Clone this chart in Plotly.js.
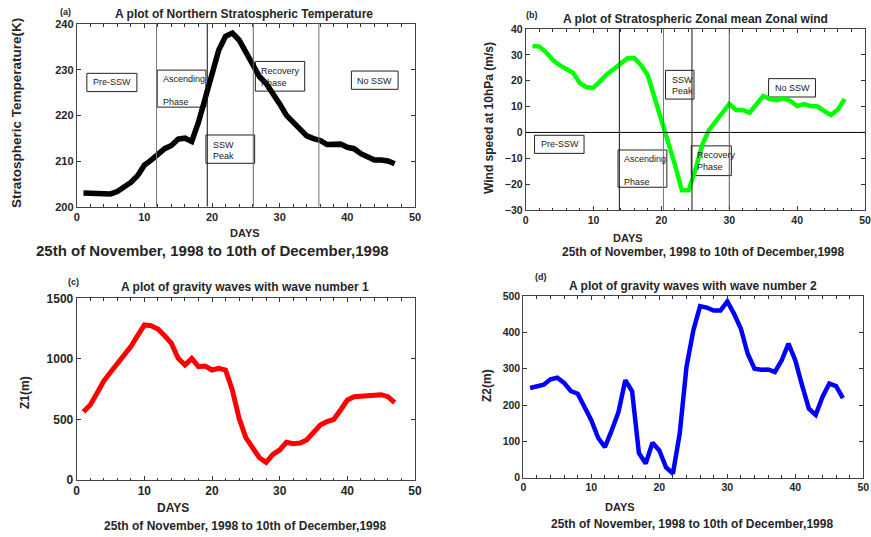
<!DOCTYPE html>
<html><head><meta charset="utf-8">
<script src="https://cdn.plot.ly/plotly-3.0.1.min.js"></script>
<style>html,body{margin:0;padding:0;background:#fff}#chart{width:871px;height:537px}</style>
</head><body><div id="chart"></div>
<script>
// ---- data ----
const days = [1,2,3,4,5,6,7,8,9,10,11,12,13,14,15,16,17,18,19,20,21,22,23,24,25,26,27,28,29,30,31,32,33,34,35,36,37,38,39,40,41,42,43,44,45,46,47];
const temperature = [203.0,202.9,202.7,202.8,202.8,203.3,204.2,205.3,206.8,209.1,210.2,211.3,212.7,213.4,214.8,215.0,214.3,218.5,224.0,229.5,234.3,237.3,238.0,236.5,234.0,231.0,228.5,227.0,225.0,222.5,220.0,218.5,216.8,215.5,214.9,214.5,213.6,213.6,213.7,213.0,212.7,211.6,210.8,210.2,210.2,210.0,209.4];
const zonalWind = [33.4,33.2,31.0,28.0,26.0,24.5,23.0,19.0,17.5,17.3,20.0,22.5,24.5,26.5,28.7,28.8,26.0,22.0,13.5,4.5,-3.0,-12.5,-22.4,-22.4,-14.5,-4.9,0.9,4.2,7.4,11.0,8.7,8.7,7.6,10.6,14.1,12.9,12.5,13.2,12.2,10.2,11.0,10.2,10.0,8.3,6.7,8.9,12.9];
const z1 = [564,619,716,817,889,955,1024,1101,1192,1280,1274,1247,1192,1128,1004,949,1004,936,941,908,922,908,743,509,350,275,184,146,212,248,311,300,305,330,394,454,482,501,578,660,688,693,699,704,704,688,638];
const z2 = [247,250,256,271,275,261,238,231,194,158,110,84,130,181,268,238,68,39,96,75,28,11,121,305,405,472,468,460,460,485,451,410,341,300,297,298,291,323,369,323,254,190,173,222,259,252,219];

const phaseLinesA = [11.8, 19.3, 26.1, 35.8];
const phaseLinesB = [13.8, 20.3, 24.5, 30.0];
const phaseLabels = ['Pre-SSW', 'Ascending', 'Phase', 'SSW', 'Peak', 'Recovery', 'Phase', 'No SSW'];

// ---- layout helpers ----
const W = 871, H = 537;
const FONT = 'Liberation Sans, Arial, sans-serif';
const px = v => v / W, py = v => 1 - v / H;

function xax(domain, anchor, size) {
  return {domain: domain, anchor: anchor, range: [0, 50], dtick: 10, tick0: 0,
    ticks: 'inside', ticklen: 4, tickcolor: '#333', showline: true, mirror: 'ticks',
    linecolor: '#444', linewidth: 1, showgrid: false, zeroline: false,
    minor: {dtick: 2, ticks: 'inside', ticklen: 2.5, tickcolor: '#333'},
    tickfont: {family: FONT, size: size, color: '#262626', weight: 'bold'}};
}
function yax(domain, anchor, range, dtick, size) {
  return {domain: domain, anchor: anchor, range: range, dtick: dtick,
    ticks: 'inside', ticklen: 4, tickcolor: '#333', showline: true, mirror: 'ticks',
    linecolor: '#444', linewidth: 1, showgrid: false, zeroline: false,
    tickfont: {family: FONT, size: size, color: '#262626', weight: 'bold'}};
}

const traces = [
  {x: days, y: temperature, xaxis: 'x', yaxis: 'y', mode: 'lines', line: {color: '#000000', width: 5.5}},
  {x: days, y: zonalWind, xaxis: 'x2', yaxis: 'y2', mode: 'lines', line: {color: '#00ff00', width: 4.5}},
  {x: days, y: z1, xaxis: 'x3', yaxis: 'y3', mode: 'lines', line: {color: '#ff0000', width: 5}},
  {x: days, y: z2, xaxis: 'x4', yaxis: 'y4', mode: 'lines', line: {color: '#0000ff', width: 4.5}}
];

const shapes = [];
const vColA = ['#777', '#111', '#666', '#777'];
phaseLinesA.forEach((d, i) => shapes.push({type: 'line', xref: 'x', yref: 'y', x0: d, x1: d, y0: 200, y1: 240, line: {color: vColA[i], width: 1}}));
const vColB = ['#111', '#777', '#111', '#555'];
phaseLinesB.forEach((d, i) => shapes.push({type: 'line', xref: 'x2', yref: 'y2', x0: d, x1: d, y0: -30, y1: 40, line: {color: vColB[i], width: 1}}));
shapes.push({type: 'line', xref: 'x2', yref: 'y2', x0: 0, x1: 50, y0: 0, y1: 0, line: {color: '#000', width: 1}});

// boxes: [x0, x1, y0, y1]
const boxesA = [[1.5, 8.9, 225.2, 229.2], [11.9, 19.1, 221.8, 229.9], [19.1, 26.3, 209.5, 215.7], [26.4, 33.7, 225.3, 231.8], [40.6, 47.5, 225.7, 229.7]];
const boxesB = [[1.3, 8.6, -8.1, -1.1], [13.6, 20.8, -21.2, -6.8], [20.6, 24.8, 12.9, 24.0], [24.4, 30.3, -16.7, -5.2], [35.8, 42.7, 13.7, 20.8]];
boxesA.forEach(b => shapes.push({type: 'rect', xref: 'x', yref: 'y', x0: b[0], x1: b[1], y0: b[2], y1: b[3], line: {color: '#222', width: 1}, layer: 'below'}));
boxesB.forEach(b => shapes.push({type: 'rect', xref: 'x2', yref: 'y2', x0: b[0], x1: b[1], y0: b[2], y1: b[3], line: {color: '#222', width: 1}, layer: 'below'}));

// label positions [x, y] per label in phaseLabels order
const labPosA = [[2.1, 227.3], [12.5, 228.0], [12.5, 222.9], [19.8, 213.5], [19.8, 211.2], [27.0, 229.7], [27.0, 227.15], [41.2, 227.6]];
const labPosB = [[2.0, -4.6], [14.2, -10.3], [14.2, -19.0], [21.2, 20.3], [21.2, 16.0], [25.0, -8.8], [25.0, -13.2], [36.4, 17.3]];

const annotations = [];
const boxFont = {family: FONT, size: 9, color: '#222'};
phaseLabels.forEach((t, i) => {
  annotations.push({xref: 'x', yref: 'y', x: labPosA[i][0], y: labPosA[i][1], text: t, showarrow: false, xanchor: 'left', yanchor: 'middle', font: boxFont});
  annotations.push({xref: 'x2', yref: 'y2', x: labPosB[i][0], y: labPosB[i][1], text: t, showarrow: false, xanchor: 'left', yanchor: 'middle', font: boxFont});
});

function txt(t, x, y, size, angle) {
  annotations.push({xref: 'paper', yref: 'paper', x: px(x), y: py(y), text: t, showarrow: false,
    xanchor: 'center', yanchor: 'middle', textangle: angle || 0,
    font: {family: FONT, size: size, color: '#262626', weight: 'bold'}});
}
const sub = '25th of November, 1998 to 10th of December,1998';
txt('(a)', 65, 12, 9); txt('(b)', 532, 15, 9); txt('(c)', 73, 282, 9); txt('(d)', 541, 277, 9);
txt('A plot of Northern Stratospheric Temperature', 244, 14, 12);
txt('A plot of Stratospheric Zonal mean Zonal wind', 695, 19, 12);
txt('A plot of gravity waves with wave number 1', 245, 287, 12);
txt('A plot of gravity waves with wave number 2', 693, 286, 12);
txt('DAYS', 245, 233, 11); txt('DAYS', 628, 238, 11); txt('DAYS', 173, 508, 12); txt('DAYS', 620, 507, 11);
txt(sub, 212, 250, 15); txt(sub, 703, 252, 12); txt(sub, 245, 526, 12); txt(sub, 692, 524, 12);
txt('Stratospheric Temperature(K)', 17, 113, 13.5, -90);
txt('Wind speed at 10hPa (m/s)', 489, 118, 12, -90);
txt('Z1(m)', 25, 393, 12, -90);
txt('Z2(m)', 487, 386, 12, -90);

const layout = {
  width: W, height: H, margin: {l: 0, r: 0, t: 0, b: 0},
  paper_bgcolor: '#fff', plot_bgcolor: '#fff', showlegend: false,
  xaxis: xax([px(76.7), px(415)], 'y', 11),
  yaxis: yax([py(206.7), py(24)], 'x', [200, 240], 10, 11),
  xaxis2: xax([px(525.7), px(865)], 'y2', 10.5),
  yaxis2: yax([py(210), py(29)], 'x2', [-30, 40], 10, 10.5),
  xaxis3: xax([px(76.7), px(415)], 'y3', 12),
  yaxis3: yax([py(480), py(298.3)], 'x3', [0, 1500], 500, 12),
  xaxis4: xax([px(523.3), px(863.3)], 'y4', 10.5),
  yaxis4: yax([py(477.7), py(296)], 'x4', [0, 500], 100, 10.5),
  shapes: shapes, annotations: annotations
};
Plotly.newPlot('chart', traces, layout, {displayModeBar: false, staticPlot: true});
</script></body></html>
